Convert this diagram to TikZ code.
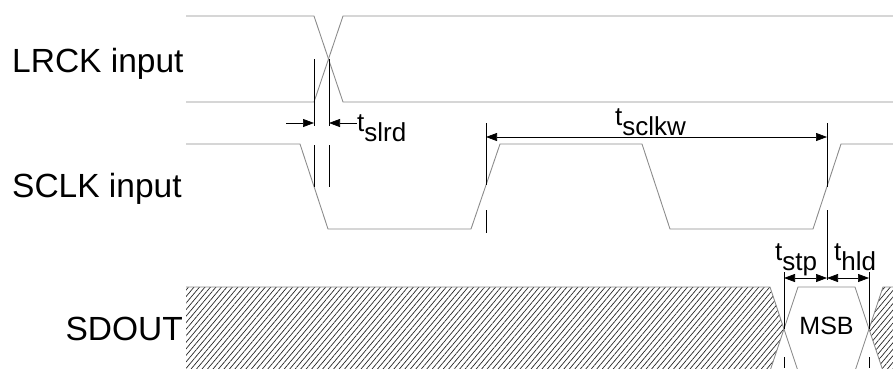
\documentclass[tikz,border=0pt]{standalone}
\usepackage{fontspec}
\setmainfont{Liberation Sans}
\usetikzlibrary{arrows.meta,patterns.meta}

\tikzset{
  sigline/.style={draw=black!45, line width=0.9pt},
  guide/.style={draw=black, line width=0.7pt},
  dimarrow/.style={guide, -{Triangle[length=11pt,width=8pt]}},
  dimboth/.style={guide, {Triangle[length=11pt,width=8pt]}-{Triangle[length=11pt,width=8pt]}},
  hatch/.style={pattern={Lines[angle=50,distance=4.2pt,line width=0.7pt]}, pattern color=black!85},
  sigtext/.style={inner sep=0pt, font=\fontsize{33.5}{36}\selectfont},
  timetext/.style={inner sep=0pt, font=\fontsize{26}{28}\selectfont},
}
\newcommand{\tsub}[1]{t\raisebox{-10.5pt}{#1}}

\begin{document}
\begin{tikzpicture}[x=1pt, y=-1pt]
\useasboundingbox (0,0) rectangle (893,368);
\clip (0,0) rectangle (893,368);

% signal names
\node[sigtext, anchor=base west] (lrck) at (12,72) {LRCK input};
\node[sigtext, anchor=base west] (sclk) at (12,197) {SCLK input};
\node[sigtext, anchor=base east] (sdout) at (183,340) {SDOUT};

% LRCK
\draw[sigline] (186,16) -- (314,16) -- (343,102) -- (893,102);
\draw[sigline] (186,102) -- (314,102) -- (343,16) -- (893,16);

% SCLK
\draw[sigline] (186,144) -- (300,144) -- (328,229) -- (471,229) -- (500,144) -- (642,144)
  -- (670,229) -- (813,229) -- (841,144) -- (893,144);

% SDOUT
\fill[hatch] (186,287) -- (770,287) -- (784,329) -- (770,371) -- (186,371) -- cycle;
\fill[hatch] (893,287) -- (883,287) -- (869,329) -- (883,371) -- (893,371) -- cycle;
\draw[sigline] (186,287) -- (770,287) -- (798,371);
\draw[sigline] (770,371) -- (798,287) -- (855,287) -- (883,371);
\draw[sigline] (855,371) -- (883,287) -- (893,287);
\node[inner sep=0pt, font=\fontsize{25}{28}\selectfont] (msb) at (826.5,326) {MSB};

% guide lines
\draw[guide] (314,59) -- (314,126) (314,145) -- (314,187);
\draw[guide] (329,59) -- (329,126) (329,145) -- (329,187);
\draw[guide] (486,123) -- (486,185) (486,210) -- (486,233);
\draw[guide] (827,123) -- (827,187) (827,210) -- (827,280);
\draw[guide] (784,272) -- (784,329) (784,357) -- (784,368);
\draw[guide] (869,272) -- (869,329) (869,357) -- (869,368);

% timing arrows
\coordinate (slrdA) at (286,123);
\coordinate (slrdL) at (314,123);
\coordinate (slrdR) at (329,123);
\coordinate (slrdB) at (357,123);
\coordinate (sclkwL) at (486,137);
\coordinate (sclkwR) at (827,137);
\coordinate (stpL) at (784,278);
\coordinate (stpR) at (827,278);
\coordinate (hldR) at (869,278);
\draw[dimarrow] (slrdA) -- (slrdL);
\draw[dimarrow] (slrdB) -- (slrdR);
\draw[dimboth] (sclkwL) -- (sclkwR);
\draw[dimboth] (stpL) -- (stpR);
\draw[dimboth] (stpR) -- (hldR);

% timing labels
\node[timetext, anchor=base west] (slrd) at (357,131) {\tsub{slrd}};
\node[timetext, anchor=base west] (sclkw) at (615,125) {\tsub{sclkw}};
\node[timetext, anchor=base west] (stp) at (775,260) {\tsub{stp}};
\node[timetext, anchor=base west] (hld) at (834,260) {\tsub{hld}};
\end{tikzpicture}
\end{document}
